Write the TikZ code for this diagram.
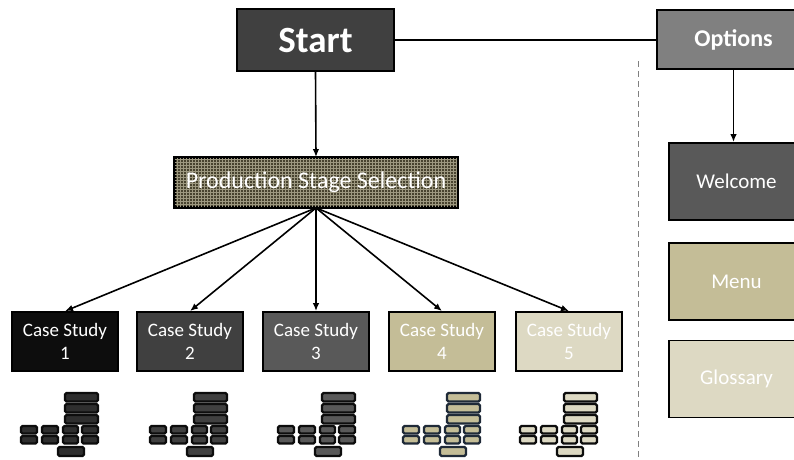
\documentclass[tikz,border=0pt]{standalone}
\usepackage{fontspec}
\setmainfont{Carlito}
\usetikzlibrary{arrows.meta,patterns}
\definecolor{cStart}{HTML}{404040}
\definecolor{cOpt}{HTML}{808080}
\definecolor{cWel}{HTML}{595959}
\definecolor{cTan}{HTML}{C4BD97}
\definecolor{cLight}{HTML}{DDD9C3}
\definecolor{cBlack}{HTML}{0D0D0D}
\definecolor{cPssBase}{HTML}{48432F}
\definecolor{cPssLine}{HTML}{9D9880}
\definecolor{cNavy}{HTML}{1F2A38}
\definecolor{cIconIn}{HTML}{2E2E2E}
\tikzset{
  x=1pt, y=-1pt,
  box/.style={draw=black, line width=1.8pt, inner sep=0pt, text=white, align=center},
  conn/.style={line width=1.6pt, -{Latex[length=8pt,width=6.5pt]}},
  casebox/.style={box, minimum width=106pt, minimum height=59pt, font=\fontsize{19}{23}\selectfont},
  sidebox/.style={box, minimum width=135pt, minimum height=77pt, font=\fontsize{21}{25}\selectfont},
  iconbar/.style={line width=2.4pt, rounded corners=1.5pt},
  pics/icon/.style n args={2}{code={
    \tikzset{every path/.style={iconbar, draw=#1, fill=#2}}
    \path (45,1) rectangle (78,9.5);
    \path (45,12) rectangle (78,20.5);
    \path (45,23) rectangle (78,31.5);
    \foreach \a/\b in {1/17,22/38,43/58,62/78}{
      \path (\a,34) rectangle (\b,41.5);
      \path (\a,44) rectangle (\b,51.5);
    }
    \path (38,55) rectangle (64,64);
  }}
}
\begin{document}
\begin{tikzpicture}
\useasboundingbox (0,0) rectangle (794,459);
\clip (0,0) rectangle (794,459);
% top
\node[box, fill=cStart, minimum width=157pt, minimum height=62pt, font=\fontsize{37}{40}\selectfont\bfseries] (start) at (315.5,40) {Start};
\node[box, fill=cOpt, minimum width=153pt, minimum height=59pt, font=\fontsize{24}{28}\selectfont\bfseries] (opt) at (733.5,39.5) {Options};
\draw[line width=1.6pt] (start.east) -- (start.east -| opt.west);
% dashed divider
\draw[gray, line width=1pt, dash pattern=on 6pt off 4pt] (638,61) coordinate (dtop) -- (638,459) coordinate (dbot);
% side boxes
\node[sidebox, fill=cWel] (wel) at (736.5,181.5) {Welcome};
\node[sidebox, fill=cTan] (menu) at (736.5,281.5) {Menu};
\node[sidebox, fill=cLight] (glos) at (736.5,379) {Glossary};
\draw[conn] (opt.south) -- (opt.south |- wel.north);
% production stage
\node[box, fill=cPssBase, minimum width=282pt, minimum height=49pt] (pss) at (316,182.5) {};
\fill[pattern=grid, pattern color=cPssLine] (pss.south west) rectangle (pss.north east);
\draw[black, line width=1.8pt] (pss.south west) rectangle (pss.north east);
\node[text=white, font=\fontsize{24}{28}\selectfont, inner sep=0pt] (psstext) at (pss.center) {Production Stage Selection};
\draw[conn] (start.south) -- (pss.north);
% case studies
\node[casebox, fill=cBlack] (c1) at (65,341.5) {Case Study\\1};
\node[casebox, fill=cStart] (c2) at (190,341.5) {Case Study\\2};
\node[casebox, fill=cWel] (c3) at (316,341.5) {Case Study\\3};
\node[casebox, fill=cTan] (c4) at (442,341.5) {Case Study\\4};
\node[casebox, fill=cLight] (c5) at (569,341.5) {Case Study\\5};
\foreach \c in {c1,c2,c3,c4,c5}{
  \draw[conn] (pss.south) -- (\c.north);
}
% icons
\pic at (20,392) {icon={cBlack}{cIconIn}};
\pic at (149,392) {icon={cBlack}{cStart}};
\pic at (277,392) {icon={cBlack}{cWel}};
\pic at (402,392) {icon={cNavy}{cTan}};
\pic at (519,392) {icon={cBlack}{cLight}};
\end{tikzpicture}
\end{document}
